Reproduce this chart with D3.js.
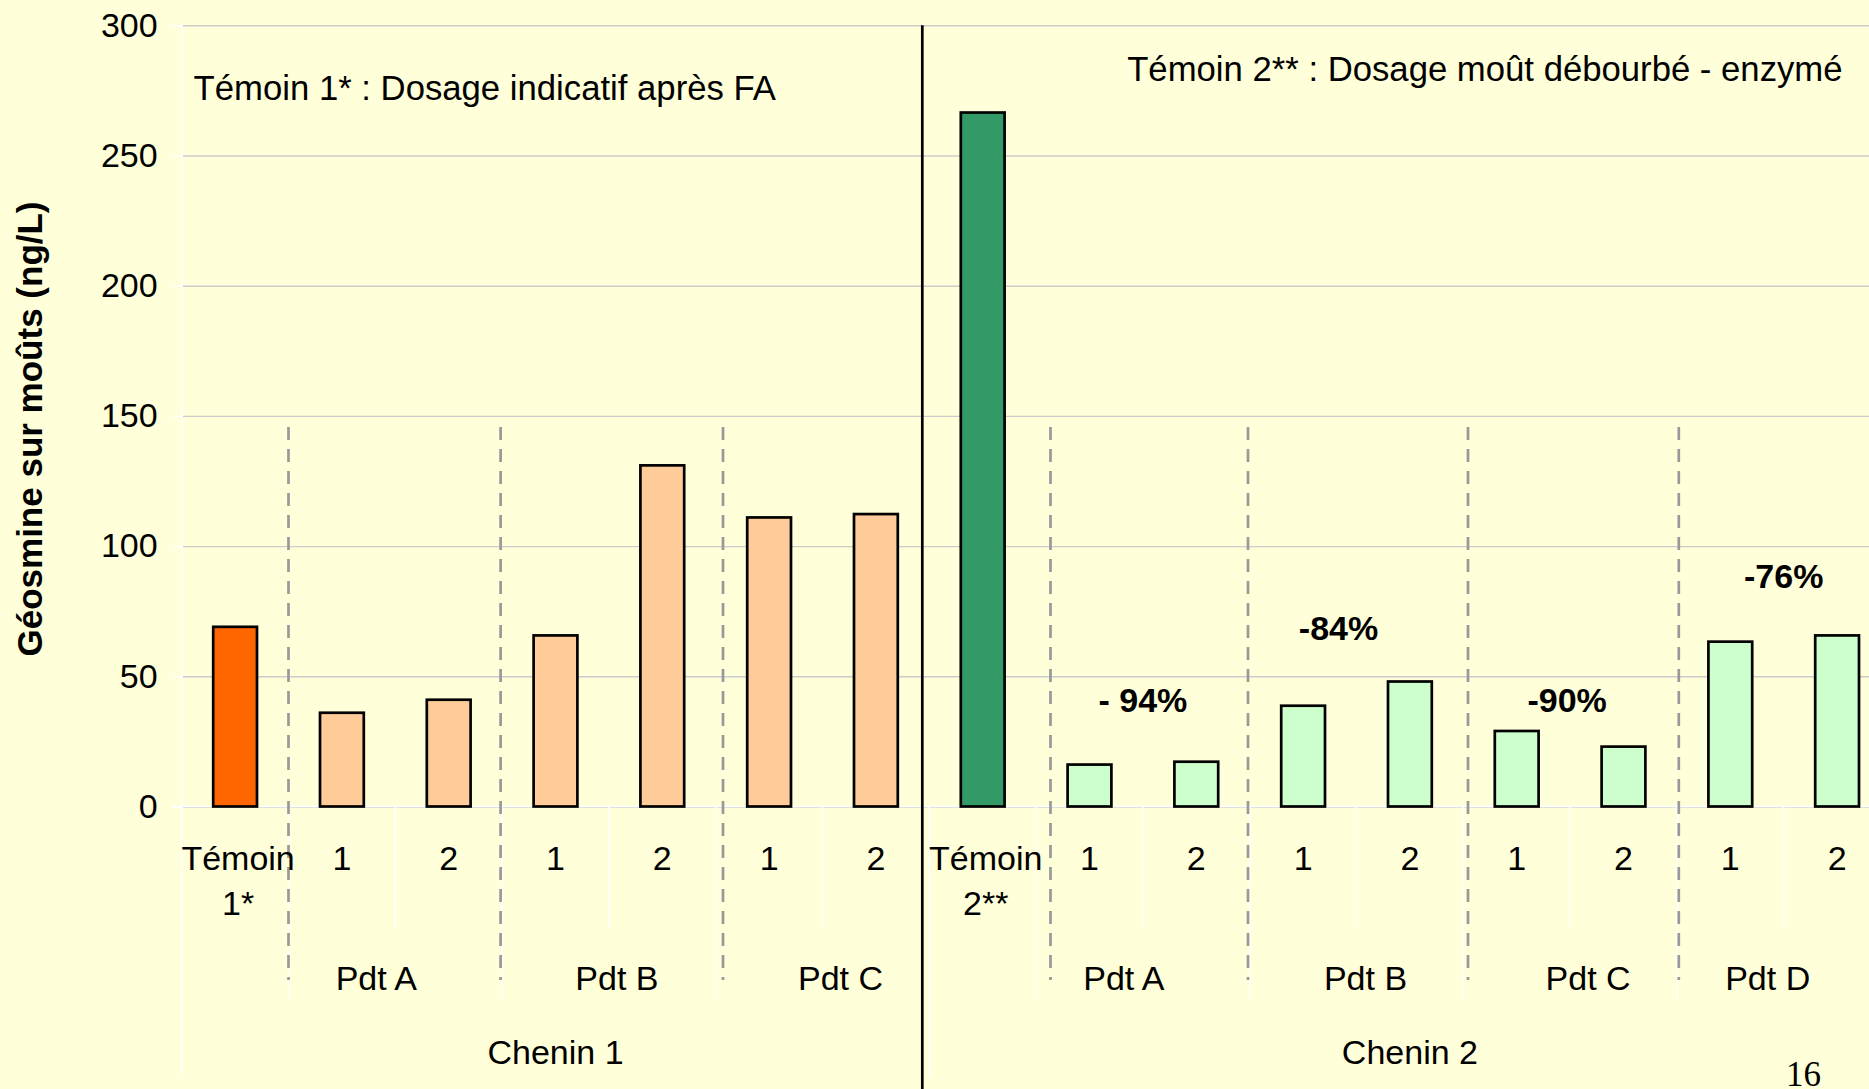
<!DOCTYPE html>
<html>
<head>
<meta charset="utf-8">
<script src="https://cdn.jsdelivr.net/npm/d3@7"></script>
<style>
  body { margin: 0; background: #ffffd9; }
  svg { display: block; }
</style>
</head>
<body>
<div id="chart"></div>
<script>
// Chart data (géosmine on musts, ng/L)
var categories = ['Témoin|1*', '1', '2', '1', '2', '1', '2', 'Témoin|2**', '1', '2', '1', '2', '1', '2', '1', '2'];
var products = ['', 'Pdt A', 'Pdt A', 'Pdt B', 'Pdt B', 'Pdt C', 'Pdt C',
                '', 'Pdt A', 'Pdt A', 'Pdt B', 'Pdt B', 'Pdt C', 'Pdt C', 'Pdt D', 'Pdt D'];
var chenins = ['Chenin 1', 'Chenin 1', 'Chenin 1', 'Chenin 1', 'Chenin 1', 'Chenin 1', 'Chenin 1',
               'Chenin 2', 'Chenin 2', 'Chenin 2', 'Chenin 2', 'Chenin 2', 'Chenin 2', 'Chenin 2', 'Chenin 2', 'Chenin 2'];
var geosmine = [69, 36, 41, 65.7, 131, 111, 112.3, 266.5, 16.1, 17.2, 38.7, 48, 29, 23, 63.3, 65.7];
var yTicks = [0, 50, 100, 150, 200, 250, 300];
var reductions = ['- 94%', '-84%', '-90%', '-76%'];
var reductionGroups = ['Pdt A', 'Pdt B', 'Pdt C', 'Pdt D'];
var notes = ['Témoin 1* : Dosage indicatif après FA', 'Témoin 2** : Dosage moût débourbé - enzymé'];
var yTitle = 'Géosmine sur moûts (ng/L)';
var pageNumber = '16';

// Layout
var outerWidth = 1869;
var outerHeight = 1089;
var plotLeft = 181.7;
var plotTop = 25.3;
var plotBottom = 806.5;
var step = 106.8;
var barRatio = 0.41;
var font = "'Liberation Sans', Arial, sans-serif";

// Hand placed annotation tweaks, in pixels
var productLabelShift = [-19, 8, 18, -19, 9, 18, -16];
var dashShift = [0, -1.5, 7.3, 14.4, -1.7, 4.7, 1.9];
var reductionShift = [0, -18, -3, 0];
var reductionAt = [36.3, 63.9, 36.3, 84.1];

// Colours
var bgColor = '#ffffd9';
function barColor(i) {
  var control = products[i] === '';
  if (chenins[i] === 'Chenin 1') return control ? '#ff6600' : '#ffcc99';
  return control ? '#339966' : '#ccffcc';
}

// Consecutive runs of the same label
function runs(arr) {
  var out = [];
  arr.forEach(function(v, i) {
    if (i === 0 || arr[i - 1] !== v) out.push({label: v, start: i, end: i + 1});
    else out[out.length - 1].end = i + 1;
  });
  return out;
}

var svg = d3.select('#chart').append('svg')
  .attr('width', outerWidth)
  .attr('height', outerHeight)
  .style('font-family', font);

svg.append('rect')
  .attr('width', outerWidth)
  .attr('height', outerHeight)
  .attr('fill', bgColor);

// Scales
var x = d3.scaleBand()
  .domain(d3.range(categories.length))
  .range([plotLeft, plotLeft + step * categories.length]);
var xEdge = d3.scaleLinear()
  .domain([0, categories.length])
  .range([plotLeft, plotLeft + step * categories.length]);
var y = d3.scaleLinear().domain([0, 300]).range([plotBottom, plotTop]);

// Gridlines
svg.append('g')
  .attr('transform', 'translate(' + plotLeft + ',0)')
  .call(d3.axisLeft(y).tickValues(yTicks).tickSize(-(outerWidth - plotLeft)).tickFormat(''))
  .call(function(g) {
    g.select('.domain').remove();
    g.selectAll('line').attr('stroke', '#cccccc').attr('stroke-width', 1.4);
  });

// Y axis (white line and ticks, like the slide)
svg.append('g')
  .attr('transform', 'translate(' + plotLeft + ',0)')
  .call(d3.axisLeft(y).tickValues(yTicks).tickSize(9).tickPadding(15))
  .call(function(g) {
    g.select('.domain').attr('stroke', '#ffffff').attr('stroke-width', 1.5);
    g.selectAll('line').attr('stroke', '#ffffff').attr('stroke-width', 1.5);
    g.selectAll('text')
      .attr('fill', '#000')
      .style('font-size', '34px')
      .style('font-family', font);
  });

// X axis line
svg.append('line')
  .attr('x1', plotLeft - 9).attr('x2', outerWidth)
  .attr('y1', y(0)).attr('y2', y(0))
  .attr('stroke', '#ffffff')
  .attr('stroke-width', 1.5);

// Category separators below the axis
var productStarts = runs(products).map(function(r) { return r.start; });
var cheninStarts = runs(chenins).map(function(r) { return r.start; }).concat([categories.length]);
svg.append('g').selectAll('line')
  .data(d3.range(categories.length + 1))
  .enter().append('line')
  .attr('x1', function(d) { return xEdge(d); })
  .attr('x2', function(d) { return xEdge(d); })
  .attr('y1', y(0))
  .attr('y2', function(d) {
    if (cheninStarts.indexOf(d) >= 0) return 1077;
    if (productStarts.indexOf(d) >= 0) return 1001;
    return 927.6;
  })
  .attr('stroke', '#ffffff')
  .attr('stroke-width', 1.5);

// Bars
var barWidth = x.bandwidth() * barRatio;
svg.append('g').selectAll('rect')
  .data(geosmine)
  .enter().append('rect')
  .attr('x', function(d, i) { return x(i) + (x.bandwidth() - barWidth) / 2; })
  .attr('y', function(d) { return y(d); })
  .attr('width', barWidth)
  .attr('height', function(d) { return y(0) - y(d); })
  .attr('fill', function(d, i) { return barColor(i); })
  .attr('stroke', '#000')
  .attr('stroke-width', 2.7);

// Dashed separators between products
var dashBounds = productStarts.filter(function(s) { return cheninStarts.indexOf(s) < 0; })
  .concat(runs(products).filter(function(r) { return r.label === ''; }).map(function(r) { return r.end; }))
  .filter(function(v, i, a) { return a.indexOf(v) === i; })
  .sort(d3.ascending);
svg.append('g').selectAll('line')
  .data(dashBounds)
  .enter().append('line')
  .attr('x1', function(d, i) { return xEdge(d) + dashShift[i]; })
  .attr('x2', function(d, i) { return xEdge(d) + dashShift[i]; })
  .attr('y1', 427)
  .attr('y2', 980)
  .attr('stroke', '#999999')
  .attr('stroke-width', 2.7)
  .attr('stroke-dasharray', '13,9');

// Solid divider between Chenin 1 and Chenin 2
svg.append('line')
  .attr('x1', xEdge(cheninStarts[1]) - 7)
  .attr('x2', xEdge(cheninStarts[1]) - 7)
  .attr('y1', plotTop)
  .attr('y2', outerHeight)
  .attr('stroke', '#000')
  .attr('stroke-width', 2.7);

// Level 1 category labels
var catLabels = svg.append('g').selectAll('text')
  .data(categories)
  .enter().append('text')
  .attr('text-anchor', 'middle')
  .style('font-size', '34px')
  .attr('y', 870);
catLabels.each(function(d, i) {
  var parts = d.split('|');
  var t = d3.select(this);
  parts.forEach(function(p, k) {
    t.append('tspan')
      .attr('x', x(i) + x.bandwidth() / 2 + (parts.length > 1 ? 3 : 0))
      .attr('dy', k === 0 ? 0 : 44.6)
      .text(p);
  });
});

// Level 2 labels (products)
var productRuns = runs(products).filter(function(r) { return r.label !== ''; });
svg.append('g').selectAll('text')
  .data(productRuns)
  .enter().append('text')
  .attr('text-anchor', 'middle')
  .style('font-size', '34px')
  .attr('x', function(d, i) { return xEdge((d.start + d.end) / 2) + productLabelShift[i]; })
  .attr('y', 990)
  .text(function(d) { return d.label; });

// Level 3 labels (chenin)
svg.append('g').selectAll('text')
  .data(runs(chenins))
  .enter().append('text')
  .attr('text-anchor', 'middle')
  .style('font-size', '34px')
  .attr('x', function(d) { return (xEdge(d.start) + xEdge(d.end)) / 2; })
  .attr('y', 1063.5)
  .text(function(d) { return d.label; });

// Reduction labels above the Chenin 2 products
var chenin2Runs = productRuns.filter(function(r) { return chenins[r.start] === 'Chenin 2'; });
svg.append('g').selectAll('text')
  .data(reductions)
  .enter().append('text')
  .attr('text-anchor', 'middle')
  .style('font-size', '34px')
  .style('font-weight', 'bold')
  .attr('x', function(d, i) {
    var r = chenin2Runs.filter(function(c) { return c.label === reductionGroups[i]; })[0];
    return xEdge((r.start + r.end) / 2) + reductionShift[i];
  })
  .attr('y', function(d, i) { return y(reductionAt[i]); })
  .text(function(d) { return d; });

// Notes on the two controls
svg.append('text')
  .attr('x', 193.6)
  .attr('y', 100)
  .style('font-size', '34.7px')
  .text(notes[0]);
svg.append('text')
  .attr('x', 1842.5)
  .attr('y', 81)
  .attr('text-anchor', 'end')
  .style('font-size', '34.7px')
  .text(notes[1]);

// Y axis title
svg.append('text')
  .attr('transform', 'translate(41.5,429) rotate(-90)')
  .attr('text-anchor', 'middle')
  .style('font-size', '35px')
  .style('font-weight', 'bold')
  .text(yTitle);

// Slide page number
svg.append('text')
  .attr('x', 1786)
  .attr('y', 1085.7)
  .style('font-family', "'Liberation Serif', 'Times New Roman', serif")
  .style('font-size', '35px')
  .text(pageNumber);
</script>
</body>
</html>
